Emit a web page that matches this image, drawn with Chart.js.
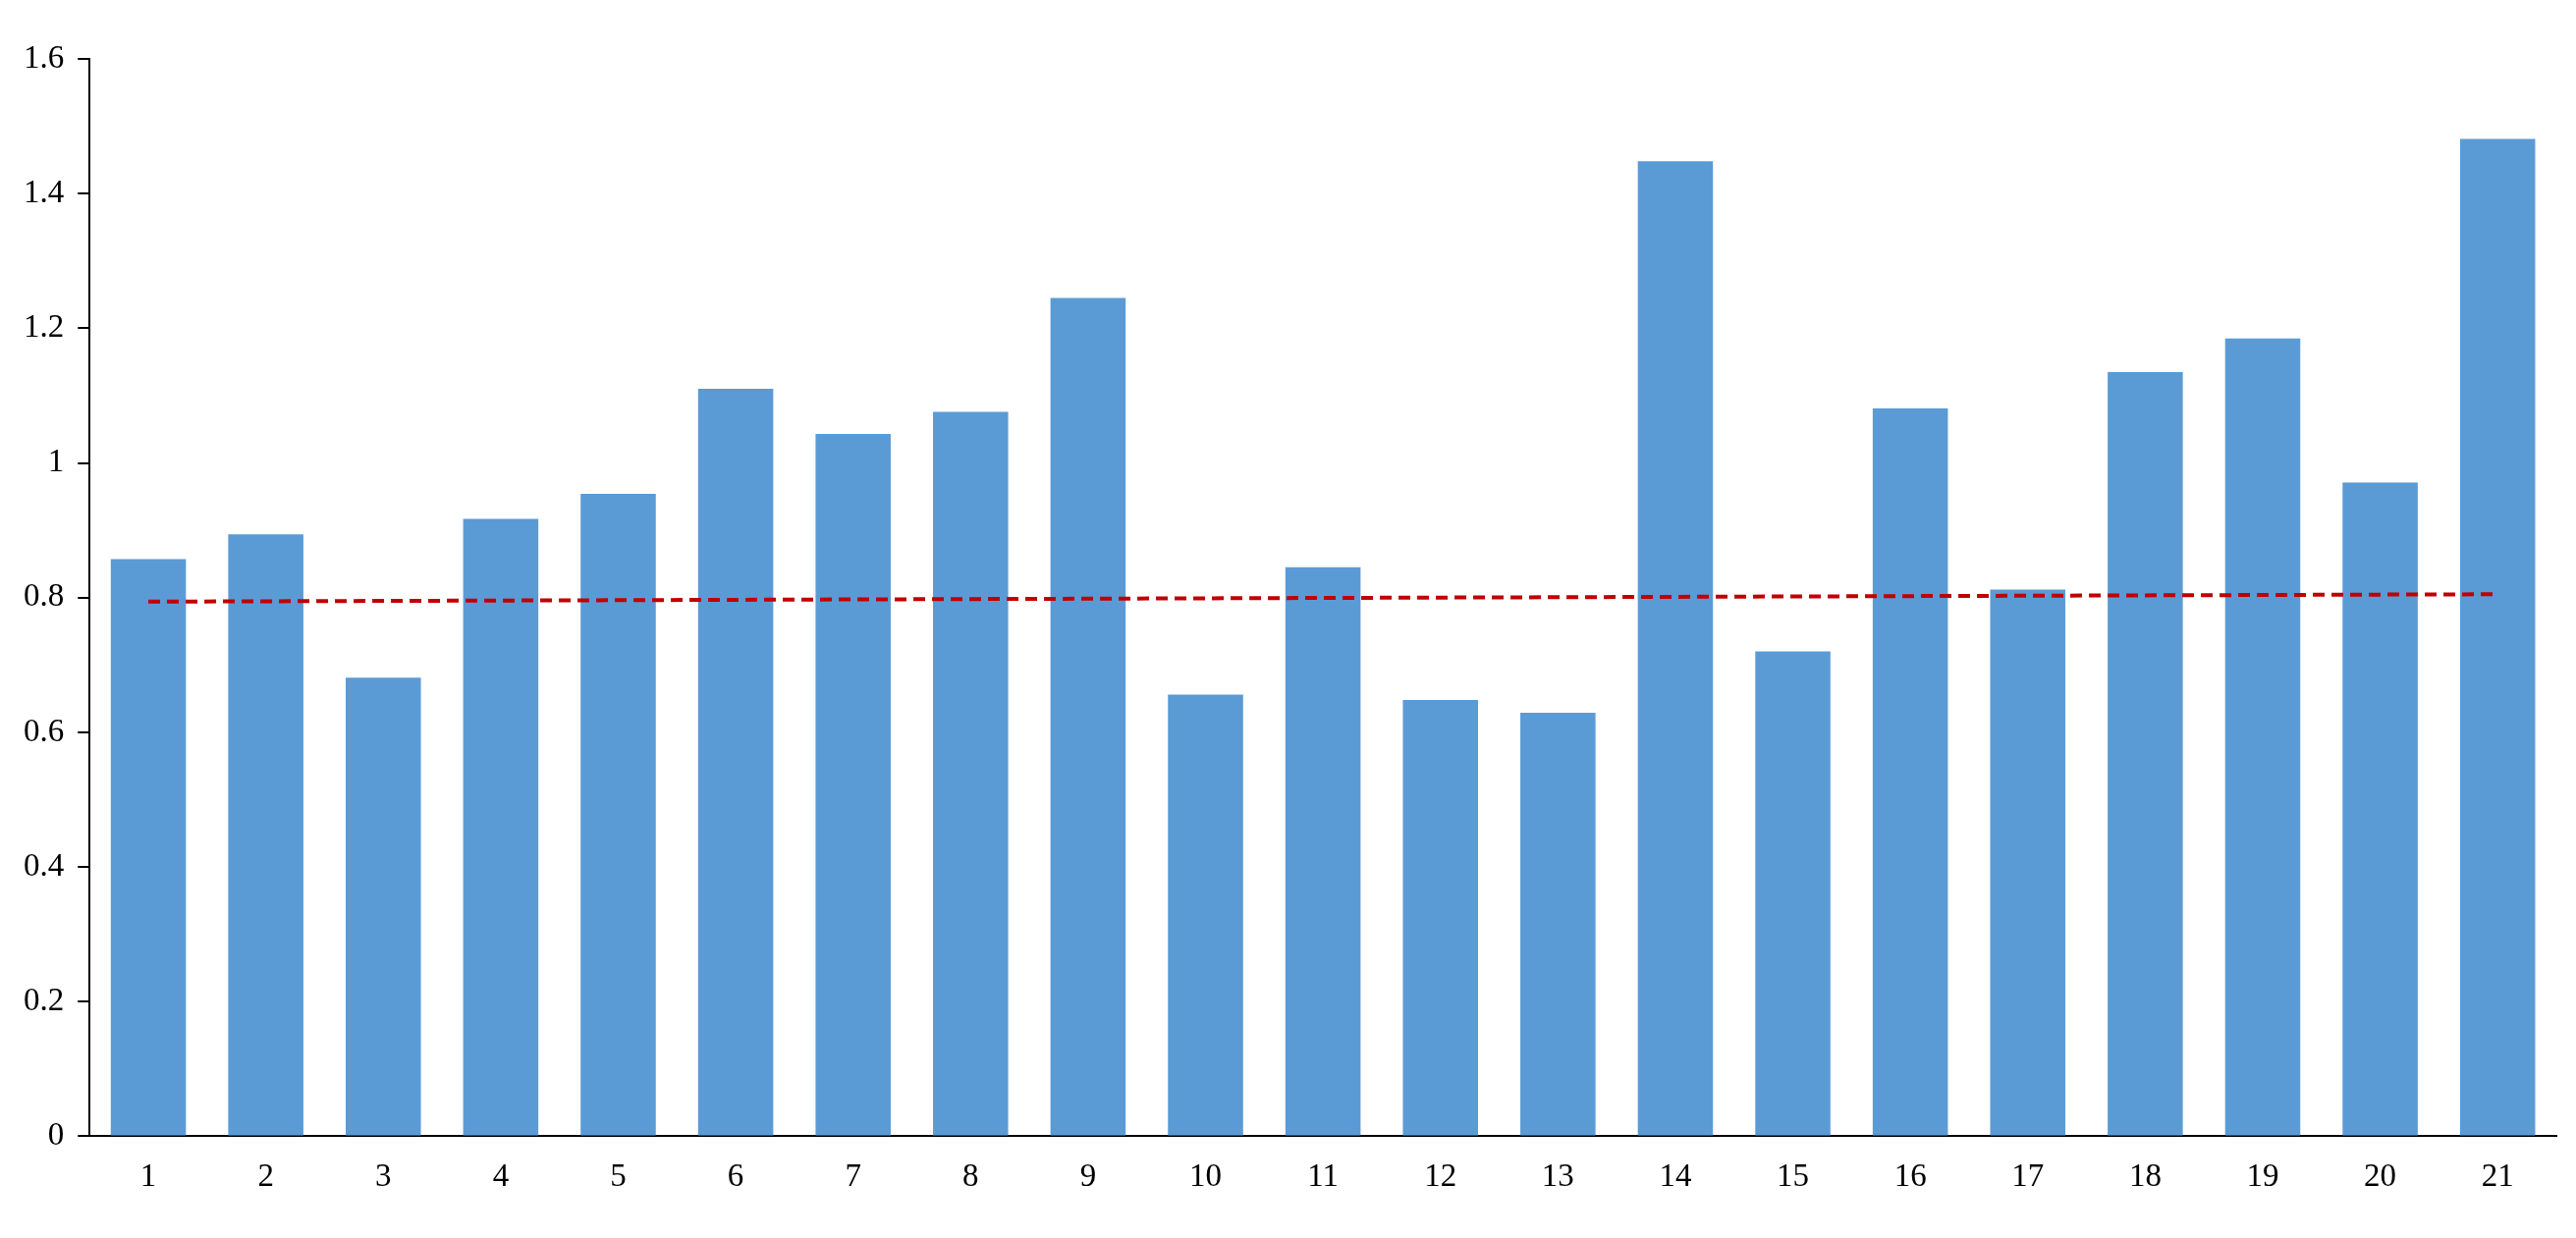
<!DOCTYPE html>
<html><head><meta charset="utf-8">
<script src="https://cdn.jsdelivr.net/npm/chart.js@4/dist/chart.umd.min.js"></script>
<style>html,body{margin:0;padding:0;background:#fff}#w{width:2623px;height:1261px}</style>
</head><body><div id="w"><canvas id="c"></canvas></div>
<script>
const categories = ["1","2","3","4","5","6","7","8","9","10","11","12","13","14","15","16","17","18","19","20","21"];
const values = [0.857,0.894,0.681,0.917,0.954,1.11,1.043,1.076,1.245,0.656,0.845,0.648,0.629,1.448,0.72,1.081,0.812,1.135,1.185,0.971,1.481];
const trendLine = [0.794,null,null,null,null,null,null,null,null,null,null,null,null,null,null,null,null,null,null,null,0.805];
const yTicks = [0,0.2,0.4,0.6,0.8,1,1.2,1.4,1.6];
const font = {family:"Liberation Serif", size:33};
new Chart(document.getElementById('c'), {
  data:{labels:categories, datasets:[
    {type:'line', data:trendLine, spanGaps:true, borderColor:'#C00000', borderWidth:4, borderDash:[12,7], pointRadius:0, order:0},
    {type:'bar', data:values, backgroundColor:'#5B9BD5', barPercentage:0.64, categoryPercentage:1, order:1}
  ]},
  options:{responsive:true, maintainAspectRatio:false, animation:false,
    layout:{padding:{left:10,right:20,top:60,bottom:20}},
    plugins:{legend:{display:false}, tooltip:{enabled:false}},
    scales:{
      x:{grid:{display:false, drawTicks:false}, border:{color:'#000',width:2}, ticks:{color:'#000', font, padding:22}},
      y:{min:0,max:1.6, afterBuildTicks:a=>{a.ticks=yTicks.map(v=>({value:v}))},
        grid:{display:true, drawOnChartArea:false, drawTicks:true, tickLength:12, color:'#000', lineWidth:2},
        border:{color:'#000',width:2}, ticks:{color:'#000', font, padding:14, callback:v=>String(v)}}
    }}
});
</script></body></html>
